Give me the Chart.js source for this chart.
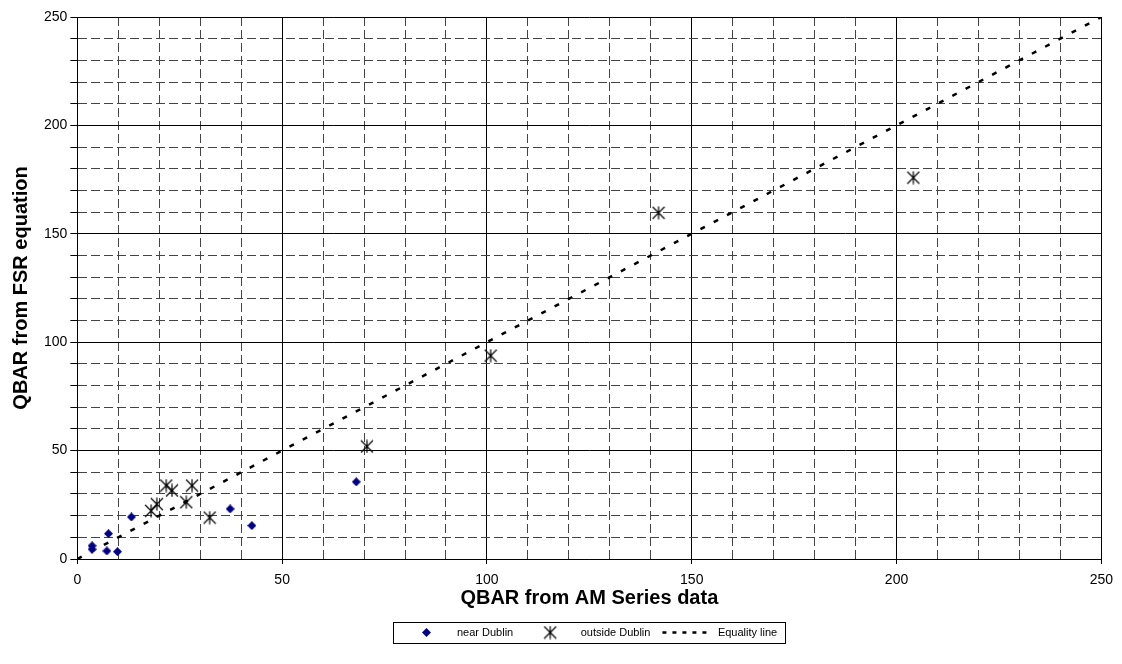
<!DOCTYPE html>
<html>
<head>
<meta charset="utf-8">
<script src="https://cdn.jsdelivr.net/npm/chart.js@4"></script>
<style>
  body { margin: 0; background: #fff; }
  #wrap { width: 1122px; height: 664px; }
</style>
</head>
<body>
<div id="wrap"><canvas id="qbarChart" width="1122" height="664"></canvas></div>
<script>
// values
const nearX = [3.6, 3.6, 7.6, 7.2, 9.8, 13.2, 37.3, 42.6, 68.1];
const nearY = [6.1, 4.5, 11.7, 3.7, 3.4, 19.4, 23.1, 15.4, 35.6];
const outsideX = [18.0, 19.4, 21.7, 23.1, 26.6, 28.0, 32.3, 70.7, 100.9, 141.9, 204.1];
const outsideY = [22.2, 25.3, 33.9, 31.6, 26.2, 33.9, 19.1, 51.9, 93.8, 159.7, 175.9];
const equalityX = [0, 250];
const equalityY = [0, 250];
const seriesNames = ['near Dublin', 'outside Dublin', 'Equality line'];

const FONT = 'Arial, "Liberation Sans", sans-serif';

function toPoints(xs, ys) {
  return xs.map((x, i) => ({ x: x, y: ys[i] }));
}

// navy diamond marker
function makeDiamond() {
  const c = document.createElement('canvas');
  c.width = 9; c.height = 9;
  const g = c.getContext('2d');
  g.fillStyle = '#000080';
  g.beginPath();
  g.moveTo(4.5, 0); g.lineTo(9, 4.5); g.lineTo(4.5, 9); g.lineTo(0, 4.5);
  g.closePath();
  g.fill();
  return c;
}

// excel style star: an X with a vertical bar through it
function makeStar() {
  const c = document.createElement('canvas');
  c.width = 14; c.height = 14;
  const g = c.getContext('2d');
  g.strokeStyle = '#000';
  g.lineWidth = 1.2;
  g.beginPath();
  g.moveTo(1, 1); g.lineTo(13, 13);
  g.moveTo(13, 1); g.lineTo(1, 13);
  g.moveTo(7, 0.5); g.lineTo(7, 13.5);
  g.stroke();
  return c;
}

const isMajor = ctx => ctx.tick && ctx.tick.value % 50 === 0;

// box around the legend
const legendFrame = {
  id: 'legendFrame',
  afterDraw(chart) {
    const boxes = chart.legend.legendHitBoxes;
    if (!boxes || !boxes.length) return;
    const left = Math.min(...boxes.map(b => b.left)) - 8;
    const right = Math.max(...boxes.map(b => b.left + b.width)) + 8;
    const midY = boxes[0].top + boxes[0].height / 2;
    const ctx = chart.ctx;
    ctx.save();
    ctx.strokeStyle = '#000';
    ctx.lineWidth = 1;
    ctx.strokeRect(Math.round(left) + 0.5, Math.round(midY - 11) + 0.5, Math.round(right - left), 21);
    ctx.restore();
  }
};

const ctx = document.getElementById('qbarChart').getContext('2d');
new Chart(ctx, {
  type: 'scatter',
  data: {
    datasets: [
      {
        label: seriesNames[0],
        data: toPoints(nearX, nearY),
        pointStyle: makeDiamond(),
        pointRadius: 5,
        backgroundColor: '#000080',
        borderColor: '#000080'
      },
      {
        label: seriesNames[1],
        data: toPoints(outsideX, outsideY),
        pointStyle: makeStar(),
        pointRadius: 7,
        backgroundColor: '#000',
        borderColor: '#000'
      },
      {
        label: seriesNames[2],
        data: toPoints(equalityX, equalityY),
        showLine: true,
        pointRadius: 0,
        pointStyle: 'line',
        borderColor: '#000',
        backgroundColor: '#000',
        borderWidth: 2.5,
        borderDash: [5, 10]
      }
    ]
  },
  options: {
    responsive: false,
    animation: false,
    devicePixelRatio: 1,
    layout: { padding: { top: 17, right: 20, bottom: 16, left: 11 } },
    plugins: {
      tooltip: { enabled: false },
      legend: {
        position: 'bottom',
        fullSize: false,
        labels: {
          usePointStyle: true,
          pointStyleWidth: 50,
          boxHeight: 10,
          padding: 12,
          color: '#000',
          font: { family: FONT, size: 11 },
          generateLabels(chart) {
            const items = Chart.defaults.plugins.legend.labels.generateLabels(chart);
            items[2].lineDash = [4, 6];
            items[2].lineWidth = 2.5;
            return items;
          }
        }
      }
    },
    scales: {
      x: {
        type: 'linear',
        min: 0,
        max: 250,
        ticks: {
          stepSize: 10,
          autoSkip: false,
          maxRotation: 0,
          padding: 9,
          color: '#000',
          font: { family: FONT, size: 14, lineHeight: 1 },
          callback: v => (v % 50 === 0 ? v : '')
        },
        grid: {
          color: ctx => (isMajor(ctx) ? '#000' : '#444'),
          lineWidth: 1,
          tickLength: 5,
          tickColor: ctx => (isMajor(ctx) ? '#000' : 'rgba(0,0,0,0)')
        },
        border: { color: '#000', width: 1, dash: ctx => (ctx.tick && !isMajor(ctx) ? [9, 4] : []) },
        title: {
          display: true,
          text: 'QBAR from AM Series data',
          color: '#000',
          font: { family: FONT, size: 20, weight: 'bold', lineHeight: 1 },
          padding: { top: -8, bottom: 7 }
        }
      },
      y: {
        type: 'linear',
        min: 0,
        max: 250,
        ticks: {
          stepSize: 10,
          autoSkip: false,
          padding: 3,
          color: '#000',
          font: { family: FONT, size: 14, lineHeight: 1 },
          callback: v => (v % 50 === 0 ? v : '')
        },
        grid: {
          color: ctx => (isMajor(ctx) ? '#000' : '#444'),
          lineWidth: 1,
          tickLength: 7,
          tickColor: '#000'
        },
        border: { color: '#000', width: 1, dash: ctx => (ctx.tick && !isMajor(ctx) ? [9, 4] : []) },
        title: {
          display: true,
          text: 'QBAR from FSR equation',
          color: '#000',
          font: { family: FONT, size: 20, weight: 'bold', lineHeight: 1 },
          padding: { top: 0, bottom: 10 }
        }
      }
    }
  },
  plugins: [legendFrame]
});
</script>
</body>
</html>
